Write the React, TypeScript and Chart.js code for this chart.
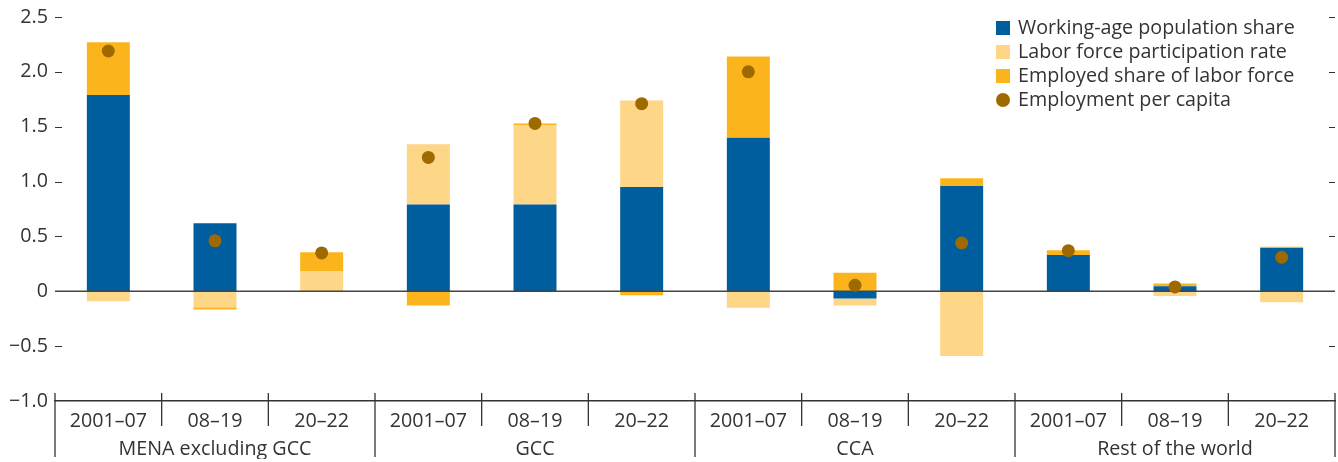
import React, { useEffect, useRef } from 'react';
import { Chart, registerables } from 'chart.js';

Chart.register(...registerables);

// ---- Data ----
const periods = ['2001–07', '08–19', '20–22', '2001–07', '08–19', '20–22', '2001–07', '08–19', '20–22', '2001–07', '08–19', '20–22'];
const regions = ['MENA excluding GCC', 'GCC', 'CCA', 'Rest of the world'];

const workingAgeShare = [1.79, 0.62, 0, 0.79, 0.79, 0.95, 1.40, -0.065, 0.96, 0.33, 0.045, 0.395];
const laborForceParticipation = [-0.09, -0.145, 0.18, 0.55, 0.725, 0.79, -0.15, -0.065, -0.59, 0, -0.043, -0.10];
const employedShare = [0.48, -0.02, 0.175, -0.13, 0.015, -0.035, 0.74, 0.17, 0.07, 0.045, 0.027, 0.01];
const employmentPerCapita = [2.19, 0.46, 0.35, 1.22, 1.53, 1.71, 2.0, 0.055, 0.44, 0.37, 0.04, 0.31];

const seriesLabels = ['Working-age population share', 'Labor force participation rate', 'Employed share of labor force', 'Employment per capita'];

const yTickValues = [-1.0, -0.5, 0, 0.5, 1.0, 1.5, 2.0, 2.5];
const yTickLabels = ['−1.0', '−0.5', '0', '0.5', '1.0', '1.5', '2.0', '2.5'];

// ---- Style ----
const FONT = '"Open Sans", "Noto Sans", "DejaVu Sans", sans-serif';
const FONT_SIZE = 19.7;
const TEXT = '#333333';
const BLUE = '#005D9E';
const LIGHT = '#FDD687';
const ORANGE = '#FCB41C';
const DOT = '#9E6A00';

const decorPlugin = {
  id: 'decor',
  beforeDatasetDraw(chart: any, args: any) {
    if (args.index !== 3) return;
    const ctx = chart.ctx;
    const ys = chart.scales.y;
    const { left, right } = chart.chartArea;
    const y = ys.getPixelForValue(0);
    ctx.save();
    ctx.strokeStyle = '#444444';
    ctx.lineWidth = 1.5;
    ctx.beginPath();
    ctx.moveTo(left, y);
    ctx.lineTo(right, y);
    ctx.stroke();
    ctx.restore();
  },
  afterDraw(chart: any) {
    const ctx = chart.ctx;
    const ys = chart.scales.y;
    const xs = chart.scales.x;
    const { left, right, bottom, top } = chart.chartArea;
    ctx.save();
    ctx.strokeStyle = TEXT;
    ctx.lineWidth = 1;
    // inner y tick marks, both sides
    ys.ticks.forEach((t: any) => {
      if (Math.abs(t.value - ys.min) < 1e-9 || Math.abs(t.value) < 1e-9) return;
      const y = Math.round(ys.getPixelForValue(t.value)) + 0.5;
      ctx.beginPath();
      ctx.moveTo(left, y);
      ctx.lineTo(left + 7, y);
      ctx.moveTo(right - 6, y);
      ctx.lineTo(right, y);
      ctx.stroke();
    });
    // x separators
    const n = xs.ticks.length;
    ctx.lineWidth = 1.3;
    for (let i = 0; i <= n; i++) {
      let x: number;
      if (i === 0) x = left;
      else if (i === n) x = right;
      else x = (xs.getPixelForValue(i - 1) + xs.getPixelForValue(i)) / 2;
      const end = i % 3 === 0 ? bottom + 56 : bottom + 25;
      ctx.beginPath();
      ctx.moveTo(x, bottom - 8);
      ctx.lineTo(x, end);
      ctx.stroke();
    }
    // legend
    const x0 = right - 339;
    const colors = [BLUE, LIGHT, ORANGE, DOT];
    ctx.font = `${FONT_SIZE}px ${FONT}`;
    ctx.textBaseline = 'middle';
    ctx.textAlign = 'left';
    chart.data.datasets.forEach((ds: any, i: number) => {
      const cy = top + 11 + i * 24;
      ctx.fillStyle = colors[i];
      if (i === 3) {
        ctx.beginPath();
        ctx.arc(x0 + 7, cy, 7, 0, Math.PI * 2);
        ctx.fill();
      } else {
        ctx.fillRect(x0, cy - 7, 14, 14);
      }
      ctx.fillStyle = TEXT;
      ctx.fillText(ds.label, x0 + 22, cy);
    });
    ctx.restore();
  },
};

export default function App() {
  const canvasRef = useRef<HTMLCanvasElement | null>(null);

  useEffect(() => {
    document.body.style.margin = '0';
    document.body.style.overflow = 'hidden';
    document.documentElement.style.overflow = 'hidden';
    if (!canvasRef.current) return;
    const font = { family: FONT, size: FONT_SIZE };
    const chart = new Chart(canvasRef.current, {
      type: 'bar',
      data: {
        labels: periods,
        datasets: [
          { label: seriesLabels[0], data: workingAgeShare, backgroundColor: BLUE, stack: 'a', order: 1, barPercentage: 0.403, categoryPercentage: 1 },
          { label: seriesLabels[1], data: laborForceParticipation, backgroundColor: LIGHT, stack: 'a', order: 1, barPercentage: 0.403, categoryPercentage: 1 },
          { label: seriesLabels[2], data: employedShare, backgroundColor: ORANGE, stack: 'a', order: 1, barPercentage: 0.403, categoryPercentage: 1 },
          {
            type: 'line',
            label: seriesLabels[3],
            data: employmentPerCapita,
            stack: 'dots',
            order: 0,
            showLine: false,
            pointRadius: 6.5,
            pointHoverRadius: 6.5,
            pointBackgroundColor: DOT,
            pointBorderWidth: 0,
            backgroundColor: DOT,
            borderColor: DOT,
          } as any,
        ],
      },
      options: {
        animation: false,
        responsive: true,
        maintainAspectRatio: false,
        devicePixelRatio: 1,
        layout: { autoPadding: false, padding: { top: 17, right: 3, bottom: 3, left: 0 } },
        plugins: { legend: { display: false }, tooltip: { enabled: false } },
        scales: {
          x: {
            type: 'category',
            stacked: true,
            offset: true,
            weight: 0,
            grid: { display: false, drawTicks: false },
            border: { display: true, color: '#333333', width: 1.5 },
            ticks: { font, color: TEXT, padding: 9, maxRotation: 0, autoSkip: false },
            afterFit: (s: any) => {
              s.height = 30;
              s.paddingLeft = 0;
              s.paddingRight = 0;
            },
          },
          x2: {
            type: 'category',
            labels: regions,
            position: 'bottom',
            offset: true,
            weight: 1,
            grid: { display: false, drawTicks: false },
            border: { display: false },
            ticks: { font, color: TEXT, padding: 7, maxRotation: 0, autoSkip: false },
            afterFit: (s: any) => {
              s.height = 28;
              s.paddingLeft = 0;
              s.paddingRight = 0;
            },
          },
          y: {
            type: 'linear',
            stacked: true,
            min: yTickValues[0],
            max: yTickValues[yTickValues.length - 1],
            grid: { display: false, drawTicks: false },
            border: { display: false },
            ticks: {
              stepSize: 0.5,
              font,
              color: TEXT,
              padding: 7,
              callback: (v: any) => {
                const idx = yTickValues.findIndex((t) => Math.abs(t - Number(v)) < 1e-9);
                return idx >= 0 ? yTickLabels[idx] : '';
              },
            },
            afterFit: (s: any) => {
              s.width = 55;
              s.paddingTop = 0;
            },
          },
        } as any,
      },
      plugins: [decorPlugin],
    });
    return () => chart.destroy();
  }, []);

  return (
    <div style={{ position: 'relative', width: 1338, height: 462, overflow: 'hidden' }}>
      <canvas ref={canvasRef} style={{ display: 'block' }} />
    </div>
  );
}
